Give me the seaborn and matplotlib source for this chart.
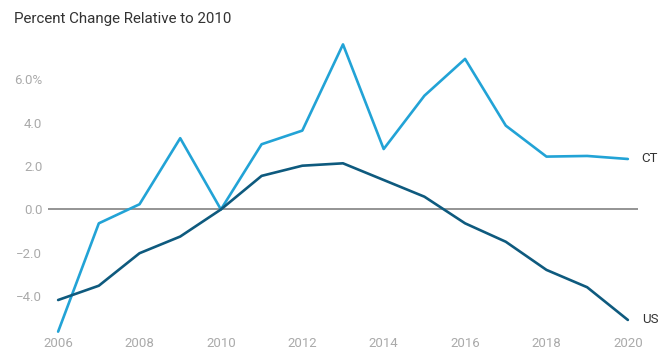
import pandas as pd
import matplotlib
matplotlib.use('Agg')
import matplotlib.pyplot as plt
import seaborn as sns

# Data (percent change relative to 2010)
years = list(range(2006, 2021))
ct_values = [-5.64, -0.64, 0.24, 3.29, 0.0, 3.01, 3.64, 7.62, 2.79, 5.25, 6.95, 3.87, 2.44, 2.47, 2.33]
us_values = [-4.18, -3.52, -2.02, -1.25, 0.0, 1.55, 2.02, 2.13, 1.36, 0.59, -0.64, -1.49, -2.79, -3.59, -5.10]
y_ticks = [-4, -2, 0, 2, 4, 6]
y_tick_labels = ['\u22124.0', '\u22122.0', '0.0', '2.0', '4.0', '6.0%']
x_ticks = list(range(2006, 2021, 2))

ct_color = '#22a3d6'
us_color = '#0e5a7e'


def main():
    sns.set_style('white')
    plt.rcParams['font.family'] = ['Roboto', 'DejaVu Sans']

    df = pd.DataFrame({
        'year': years * 2,
        'value': ct_values + us_values,
        'region': ['CT'] * len(years) + ['US'] * len(years),
    })

    fig = plt.figure(figsize=(6.66, 3.49), dpi=100)
    ax = fig.add_axes([0.072, 0.046, 0.886, 0.838])

    ax.axhline(0, color='#777777', linewidth=1.1, zorder=1)
    sns.lineplot(data=df, x='year', y='value', hue='region',
                 palette={'CT': ct_color, 'US': us_color},
                 linewidth=1.9, legend=False, ax=ax, zorder=3)

    # End labels
    ax.annotate('CT', (years[-1], ct_values[-1]), xytext=(10, 0),
                textcoords='offset points', va='center', ha='left',
                fontsize=9.5, color='#333333')
    ax.annotate('US', (years[-1], us_values[-1]), xytext=(10, 0),
                textcoords='offset points', va='center', ha='left',
                fontsize=9.5, color='#333333')

    ax.set_xlim(2005.75, 2020.25)
    ax.set_ylim(-5.7, 7.8)
    ax.set_xticks(x_ticks)
    ax.set_xticklabels([str(y) for y in x_ticks])
    ax.set_yticks(y_ticks)
    ax.set_yticklabels(y_tick_labels)
    ax.tick_params(axis='both', length=0, labelsize=9.5, labelcolor='#aaaaaa')
    ax.tick_params(axis='y', pad=4)
    ax.tick_params(axis='x', pad=3)
    ax.set_xlabel('')
    ax.set_ylabel('')
    sns.despine(ax=ax, left=True, bottom=True)

    fig.text(0.021, 0.945, 'Percent Change Relative to 2010', fontsize=10.9,
             color='#333333', ha='left', va='center')

    fig.savefig('out.png', dpi=100)
    plt.close('all')


if __name__ == '__main__':
    main()
